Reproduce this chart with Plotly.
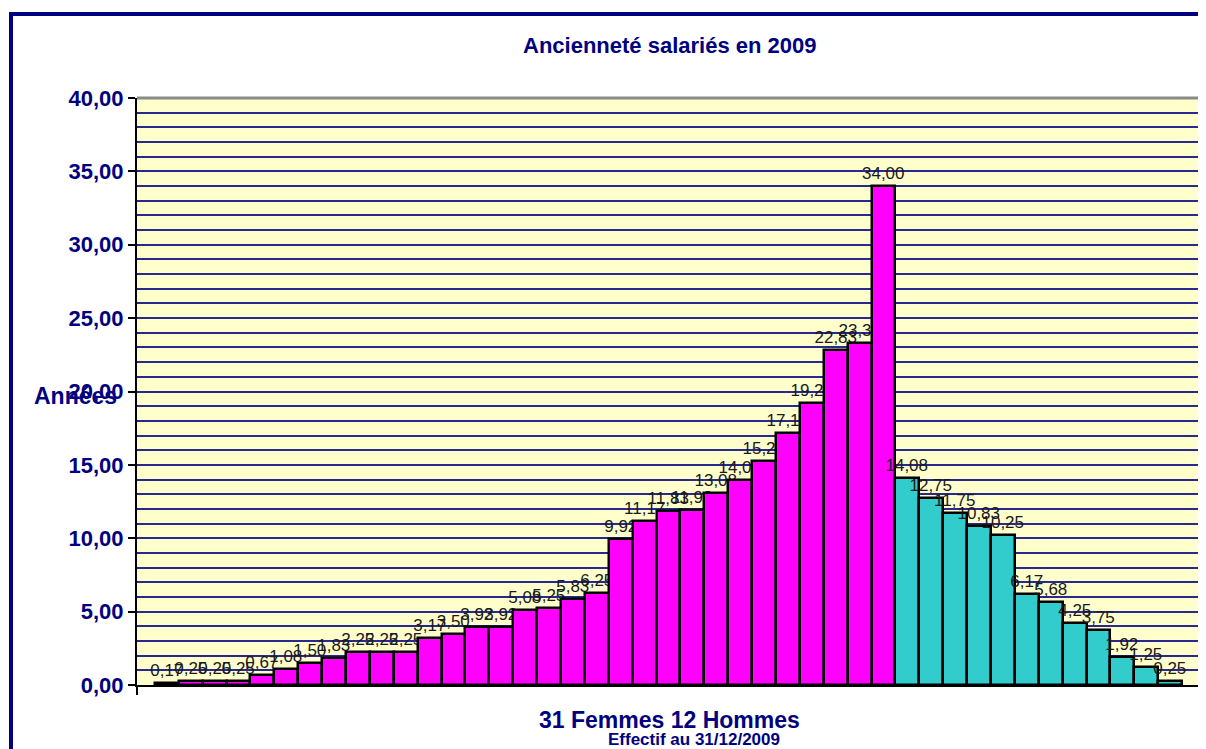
import plotly.graph_objects as go

title = "Ancienneté salariés en 2009"
y_title = "Années"
x_title = "31 Femmes 12 Hommes"
x_subtitle = "Effectif au 31/12/2009"

femmes = [0.17, 0.25, 0.25, 0.25, 0.67, 1.08, 1.50, 1.83, 2.25, 2.25, 2.25,
          3.17, 3.50, 3.92, 3.92, 5.08, 5.25, 5.83, 6.25, 9.92, 11.17, 11.83,
          11.92, 13.08, 14.00, 15.25, 17.17, 19.25, 22.83, 23.33, 34.00]
hommes = [14.08, 12.75, 11.75, 10.83, 10.25, 6.17, 5.68, 4.25, 3.75, 1.92,
          1.25, 0.25]
y_ticks = [0, 5, 10, 15, 20, 25, 30, 35, 40]

x_f = list(range(len(femmes)))
x_h = list(range(len(femmes), len(femmes) + len(hommes)))
n = len(femmes) + len(hommes)

NAVY = "#000080"
FONT = "Liberation Sans, Arial"
label_font = dict(family=FONT, size=17, color="#1a1a1a")

fig = go.Figure()
fig.add_trace(go.Bar(
    x=x_f, y=femmes, name="Femmes",
    marker=dict(color="#FF00FF", line=dict(color="black", width=2.5)),
    texttemplate="%{y:.2f}", textposition="outside", textfont=label_font,
    constraintext="none", cliponaxis=False,
))
fig.add_trace(go.Bar(
    x=x_h, y=hommes, name="Hommes",
    marker=dict(color="#33CCCC", line=dict(color="black", width=2.5)),
    texttemplate="%{y:.2f}", textposition="outside", textfont=label_font,
    constraintext="none", cliponaxis=False,
))

# page coordinates (the page body adds an 8px offset)
OFF = 8
L, R, T, B = 137, 1200, 98, 685
PW, PH = 1206, 749
pw, ph = R - L, B - T
W, H = PW - OFF, PH - OFF


def px(x):
    return (x - L) / pw


def py(y):
    return (B - y) / ph


fig.update_layout(
    width=W, height=H,
    margin=dict(l=L - OFF, r=PW - R, t=T - OFF, b=PH - B),
    paper_bgcolor="white",
    plot_bgcolor="#FFFFCC",
    separators=", ",
    bargap=0,
    barmode="overlay",
    showlegend=False,
    xaxis=dict(range=[-1.25, n - 1 + 1.25], showgrid=False, zeroline=False,
               showticklabels=False, showline=True, linecolor="black",
               linewidth=2, ticks="outside", tickvals=[-1.25, n - 1 + 1.25],
               ticklen=8, tickcolor="black", tickwidth=2),
    yaxis=dict(range=[0, 40], tickvals=y_ticks, tickformat=".2f",
               showgrid=True, gridcolor="#28288f", gridwidth=1.5,
               zeroline=False, showline=True, linecolor="black", linewidth=2,
               ticks="outside", ticklen=7, tickcolor="black", tickwidth=2,
               tickfont=dict(family=FONT, size=22, color=NAVY, weight="bold"),
               minor=dict(dtick=1, showgrid=True, gridcolor="#28288f",
                          gridwidth=1.5)),
)

shapes = [
    # outer navy frame
    dict(type="rect", xref="paper", yref="paper",
         x0=px(11), x1=px(1215), y0=py(760), y1=py(14),
         line=dict(color=NAVY, width=4), fillcolor="rgba(0,0,0,0)",
         layer="above"),
    # gray plot border top and right
    dict(type="line", xref="paper", yref="paper", x0=0, x1=1, y0=1, y1=1,
         line=dict(color="#8a8a8a", width=3)),
    dict(type="line", xref="paper", yref="paper", x0=1, x1=1, y0=0, y1=1,
         line=dict(color="#8a8a8a", width=3)),
]
fig.update_layout(shapes=shapes)

fig.add_annotation(text=title, xref="paper", yref="paper",
                   x=px(670), y=py(45), xanchor="center", yanchor="middle",
                   showarrow=False,
                   font=dict(family=FONT, size=22, color=NAVY, weight="bold"))
fig.add_annotation(text=y_title, xref="paper", yref="paper",
                   x=px(119), y=py(396), xanchor="right", yanchor="middle",
                   showarrow=False,
                   font=dict(family=FONT, size=23, color=NAVY, weight="bold"))
fig.add_annotation(text=x_title, xref="paper", yref="paper",
                   x=px(669), y=py(720), xanchor="center", yanchor="middle",
                   showarrow=False,
                   font=dict(family=FONT, size=23, color=NAVY, weight="bold"))
fig.add_annotation(text=x_subtitle, xref="paper", yref="paper",
                   x=px(694), y=py(739), xanchor="center", yanchor="middle",
                   showarrow=False,
                   font=dict(family=FONT, size=17, color=NAVY, weight="bold"))

fig.write_html("out.html")
